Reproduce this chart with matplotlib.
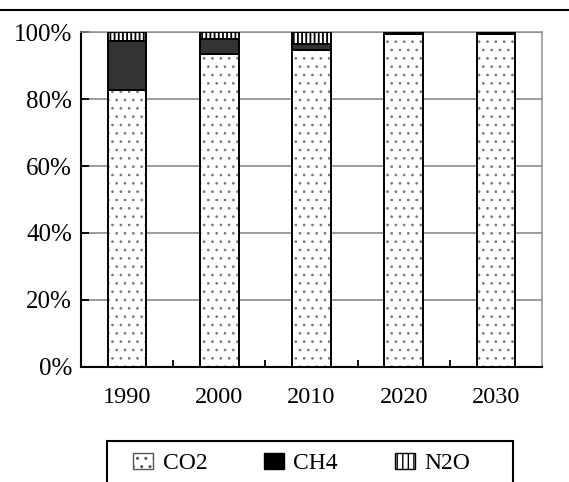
import numpy as np
import matplotlib
matplotlib.use("Agg")
import matplotlib.pyplot as plt
from matplotlib.lines import Line2D
from matplotlib.patches import Patch, Rectangle
from matplotlib.ticker import PercentFormatter

plt.rcParams['font.family'] = ['Liberation Serif', 'DejaVu Serif']

years = ['1990', '2000', '2010', '2020', '2030']
co2 = [82.6, 93.4, 94.6, 99.3, 99.5]
ch4 = [14.8, 4.6, 1.9, 0.4, 0.3]
n2o = [2.6, 2.0, 3.5, 0.3, 0.2]

fig = plt.figure(figsize=(5.69, 4.82), dpi=100)
ax = fig.add_axes([0.1424, 0.2386, 0.8101, 0.695])

x = np.arange(len(years))
w = 0.42
base2 = np.array(co2)
base3 = base2 + np.array(ch4)

# dotted fill for CO2 (hatch takes the edge colour, so outline drawn separately)
with plt.rc_context({'hatch.linewidth': 0.7}):
    ax.bar(x, co2, w, color='white', edgecolor='#777777', hatch='..',
           linewidth=0, zorder=3)
ax.bar(x, co2, w, fill=False, edgecolor='black', linewidth=1.4, zorder=4)
ax.bar(x, ch4, w, bottom=base2, color='#333333', edgecolor='black',
       linewidth=1.4, zorder=4)
with plt.rc_context({'hatch.linewidth': 1.3}):
    ax.bar(x, n2o, w, bottom=base3, color='white', edgecolor='black',
           hatch='||||', linewidth=1.4, zorder=4)

ax.set_xlim(-0.5, len(years) - 0.5)
ax.set_ylim(0, 100)
ax.set_yticks(np.arange(0, 101, 20))
ax.yaxis.set_major_formatter(PercentFormatter(decimals=0))
ax.set_xticks(x)
ax.set_xticklabels(years)
ax.set_xticks(np.arange(0.5, len(years) - 1, 1), minor=True)
ax.tick_params(axis='x', which='major', length=0, labelsize=17.5, pad=14.5)
ax.tick_params(axis='x', which='minor', direction='in', length=5, width=1.3)
ax.tick_params(axis='y', direction='in', length=6, width=1.3, labelsize=18, pad=6.5)
ax.yaxis.grid(True, color='#808080', linewidth=1.1, zorder=0)

for s in ['top', 'right']:
    ax.spines[s].set_color('#909090')
    ax.spines[s].set_linewidth(1.1)
for s in ['left', 'bottom']:
    ax.spines[s].set_color('black')
    ax.spines[s].set_linewidth(1.5)

# rule across the top of the figure
fig.add_artist(Line2D([0, 1], [1 - 10 / 482, 1 - 10 / 482], color='black', linewidth=1.5))

# legend box runs off the bottom edge
fig.add_artist(Rectangle((107 / 569, -0.1), 406 / 569, 0.1 + 1 - 441 / 482,
                         transform=fig.transFigure, fill=False,
                         edgecolor='black', linewidth=1.5))

with plt.rc_context({'hatch.linewidth': 0.7}):
    h_co2 = Patch(facecolor='white', edgecolor='#555555', hatch='..', linewidth=1.0)
with plt.rc_context({'hatch.linewidth': 1.0}):
    h_n2o = Patch(facecolor='white', edgecolor='black', hatch='|||', linewidth=1.0)
h_ch4 = Patch(facecolor='black', edgecolor='black', linewidth=1.0)

fig.legend(handles=[h_co2, h_ch4, h_n2o], labels=['CO2', 'CH4', 'N2O'],
           loc='upper left', ncol=3, bbox_to_anchor=(133 / 569, 1 - 453 / 482),
           fontsize=17, frameon=False, handlelength=0.85, handleheight=0.65,
           handletextpad=0.4, columnspacing=2.4, borderpad=0, borderaxespad=0)

fig.savefig('out.png', dpi=100)
